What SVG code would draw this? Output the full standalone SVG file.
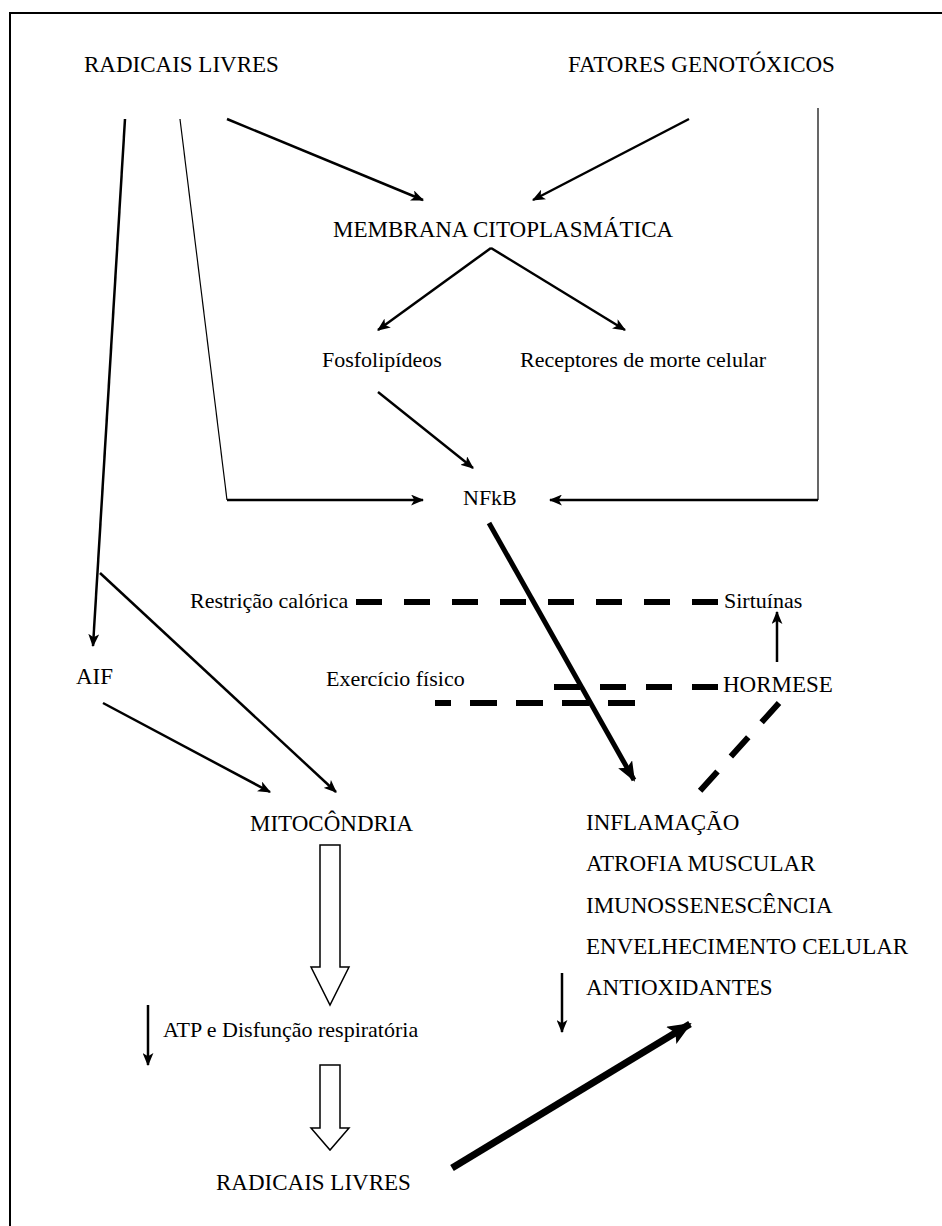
<svg xmlns="http://www.w3.org/2000/svg" width="942" height="1226" viewBox="0 0 942 1226">
<defs>
<style>
text{font-family:"Liberation Serif","Times New Roman",serif;font-size:22px;fill:#000}
text.cap{font-size:23px}
.ln{fill:none;stroke:#000;stroke-width:2.5}
.thin{fill:none;stroke:#000;stroke-width:1.2}
.dash{fill:none;stroke:#000;stroke-width:6}
.block{fill:#fff;stroke:#000;stroke-width:1.5}
</style>
<marker id="ah" viewBox="0 0 12 10" refX="11" refY="5" markerWidth="13" markerHeight="11" markerUnits="userSpaceOnUse" orient="auto"><path d="M0,0 L12,5 L0,10 L3,5 Z"/></marker>
<marker id="ahb" viewBox="0 0 20 16" refX="18" refY="8" markerWidth="20" markerHeight="16" markerUnits="userSpaceOnUse" orient="auto"><path d="M0,0 L20,8 L0,16 L4,8 Z"/></marker>
<marker id="ahx" viewBox="0 0 24 20" refX="22" refY="10" markerWidth="24" markerHeight="20" markerUnits="userSpaceOnUse" orient="auto"><path d="M0,0 L24,10 L0,20 L5,10 Z"/></marker>
</defs>
<rect x="10" y="13" width="960" height="1240" fill="none" stroke="#000" stroke-width="2"/>
<g id="connectors">
<path class="ln" d="M125,119 L93,646" marker-end="url(#ah)"/>
<path class="thin" d="M180,119 L227,500"/>
<path class="ln" d="M227,500 L423,500" marker-end="url(#ah)"/>
<path class="ln" d="M227,119 L423,200" marker-end="url(#ah)"/>
<path class="ln" d="M689,119 L533,200" marker-end="url(#ah)"/>
<path class="thin" d="M818,108 L818,500"/>
<path class="ln" d="M818,500 L550,500" marker-end="url(#ah)"/>
<path class="ln" d="M491,248 L378,330" marker-end="url(#ah)"/>
<path class="ln" d="M491,248 L625,330" marker-end="url(#ah)"/>
<path class="ln" d="M378,392 L473,468" marker-end="url(#ah)"/>
<path fill="none" stroke="#000" stroke-width="5" d="M489,523 L634,780" marker-end="url(#ahb)"/>
<path class="dash" d="M356,602 L718,602" stroke-dasharray="26 22"/>
<path class="dash" d="M554,687 L718,687" stroke-dasharray="26 20"/>
<path class="dash" d="M635,703 L435,703" stroke-dasharray="27 19"/>
<path class="dash" d="M779,703 L699,792" stroke-dasharray="26 20"/>
<path class="ln" d="M777,662 L777,612" marker-end="url(#ah)"/>
<path class="ln" d="M103,703 L270,792" marker-end="url(#ah)"/>
<path class="ln" d="M100,573 L336,792" marker-end="url(#ah)"/>
<polygon class="block" points="320,845 340,845 340,967 349,967 330,1005 311,967 320,967"/>
<polygon class="block" points="320,1065 340,1065 340,1128 349,1128 330,1150 311,1128 320,1128"/>
<path class="ln" d="M148,1005 L148,1065" marker-end="url(#ah)"/>
<path class="ln" d="M562,973 L562,1032" marker-end="url(#ah)"/>
<path fill="none" stroke="#000" stroke-width="7" d="M452,1168 L690,1024" marker-end="url(#ahx)"/>
</g>
<g id="radicais-livres-top"><text class="cap" x="84" y="72">RADICAIS LIVRES</text></g>
<g id="fatores-genotoxicos"><text class="cap" x="568" y="72">FATORES GENOTÓXICOS</text></g>
<g id="membrana"><text class="cap" x="333" y="237">MEMBRANA CITOPLASMÁTICA</text></g>
<g id="fosfolipideos"><text x="322" y="367">Fosfolipídeos</text></g>
<g id="receptores"><text x="520" y="367">Receptores de morte celular</text></g>
<g id="nfkb"><text x="463" y="505">NFkB</text></g>
<g id="restricao"><text x="190" y="608">Restrição calórica</text></g>
<g id="sirtuinas"><text x="724" y="608">Sirtuínas</text></g>
<g id="exercicio"><text x="326" y="686">Exercício físico</text></g>
<g id="hormese"><text class="cap" x="723" y="692">HORMESE</text></g>
<g id="aif"><text class="cap" x="76" y="684">AIF</text></g>
<g id="mitocondria"><text class="cap" x="250" y="831">MITOCÔNDRIA</text></g>
<g id="efeitos">
<text class="cap" x="586" y="830">INFLAMAÇÃO</text>
<text class="cap" x="586" y="871">ATROFIA MUSCULAR</text>
<text class="cap" x="586" y="913">IMUNOSSENESCÊNCIA</text>
<text class="cap" x="586" y="954">ENVELHECIMENTO CELULAR</text>
<text class="cap" x="586" y="995">ANTIOXIDANTES</text>
</g>
<g id="atp"><text x="163" y="1037">ATP e Disfunção respiratória</text></g>
<g id="radicais-livres-bottom"><text class="cap" x="216" y="1190">RADICAIS LIVRES</text></g>
</svg>
